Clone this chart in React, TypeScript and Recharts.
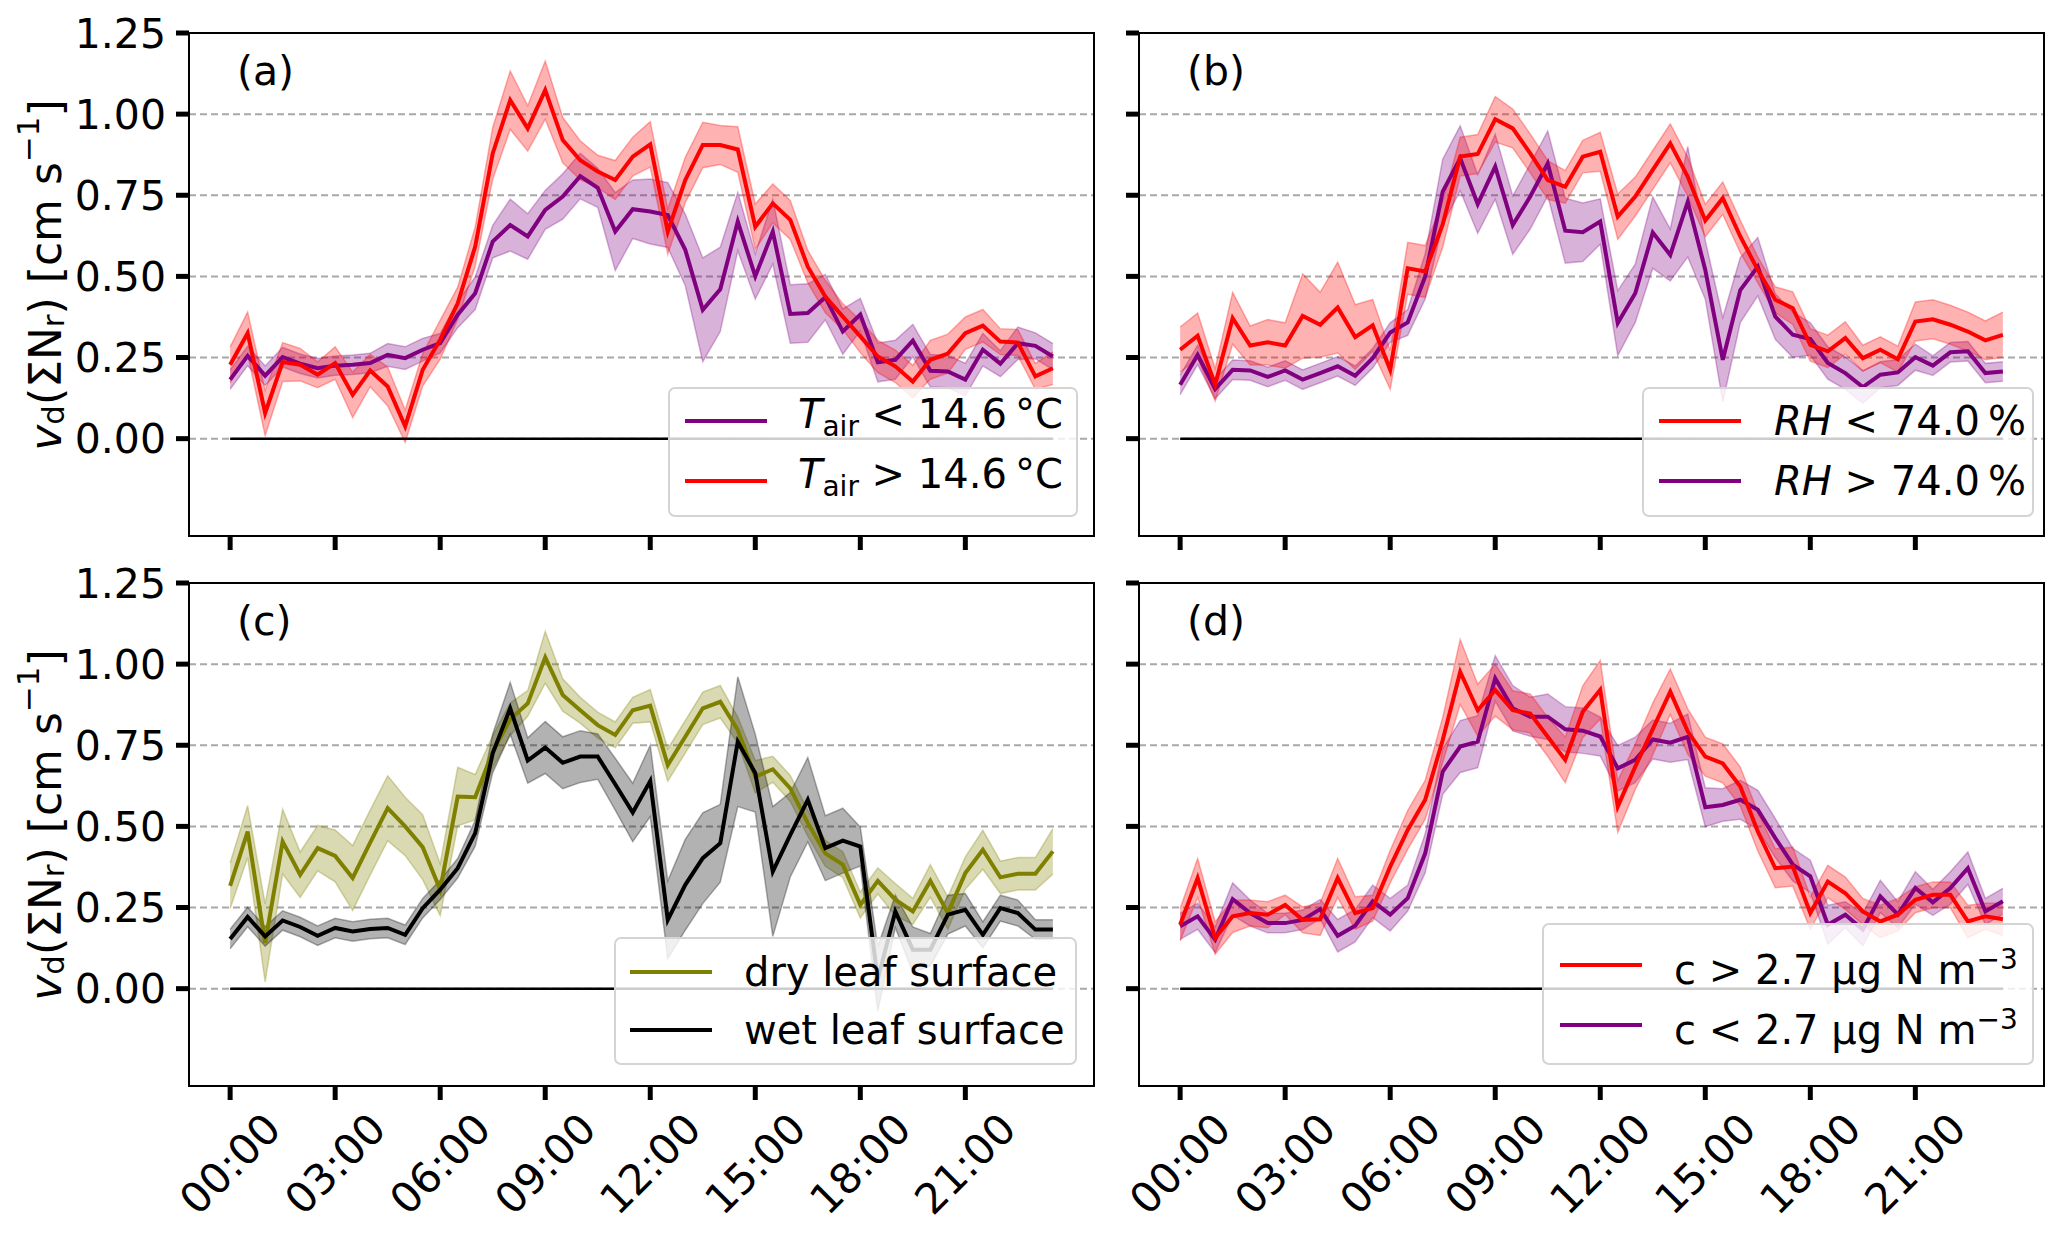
import React from "react";
import {
  ComposedChart,
  Area,
  Line,
  XAxis,
  YAxis,
  CartesianGrid,
  ReferenceLine,
  ReferenceArea,
  Legend,
} from "recharts";

const FONT = "DejaVu Sans";

// x positions: half-hour slots of the day, ticks every 3 h
const tickSlots = [0, 6, 12, 18, 24, 30, 36, 42];
const tickLabels = ["00:00", "03:00", "06:00", "09:00", "12:00", "15:00", "18:00", "21:00"];
const yTicks = [0, 0.25, 0.5, 0.75, 1.0, 1.25];

// (a) air temperature
const tAirLowMean = [0.182, 0.255, 0.194, 0.251, 0.231, 0.217, 0.225, 0.228, 0.233, 0.258, 0.248, 0.274, 0.294, 0.382, 0.448, 0.607, 0.658, 0.623, 0.705, 0.746, 0.809, 0.773, 0.638, 0.707, 0.70, 0.689, 0.582, 0.397, 0.46, 0.669, 0.50, 0.638, 0.384, 0.387, 0.436, 0.33, 0.382, 0.235, 0.243, 0.302, 0.209, 0.207, 0.182, 0.274, 0.231, 0.294, 0.286, 0.253];
const tAirLowErr = [0.03, 0.03, 0.03, 0.03, 0.03, 0.03, 0.03, 0.03, 0.03, 0.035, 0.035, 0.035, 0.03, 0.04, 0.05, 0.05, 0.08, 0.07, 0.06, 0.07, 0.07, 0.06, 0.12, 0.09, 0.10, 0.10, 0.11, 0.16, 0.13, 0.09, 0.07, 0.10, 0.09, 0.09, 0.07, 0.07, 0.05, 0.06, 0.06, 0.05, 0.05, 0.05, 0.05, 0.05, 0.04, 0.05, 0.04, 0.04];
const tAirHighMean = [0.228, 0.325, 0.079, 0.236, 0.228, 0.197, 0.233, 0.135, 0.21, 0.161, 0.038, 0.212, 0.305, 0.417, 0.592, 0.879, 1.043, 0.956, 1.074, 0.92, 0.858, 0.823, 0.797, 0.869, 0.907, 0.638, 0.797, 0.905, 0.905, 0.891, 0.653, 0.725, 0.674, 0.53, 0.438, 0.376, 0.315, 0.253, 0.223, 0.176, 0.243, 0.262, 0.325, 0.348, 0.299, 0.296, 0.192, 0.217];
const tAirHighErr = [0.055, 0.065, 0.07, 0.06, 0.05, 0.04, 0.05, 0.07, 0.05, 0.06, 0.05, 0.05, 0.06, 0.05, 0.06, 0.08, 0.09, 0.07, 0.09, 0.07, 0.06, 0.05, 0.06, 0.06, 0.07, 0.07, 0.07, 0.07, 0.06, 0.07, 0.07, 0.06, 0.06, 0.05, 0.05, 0.04, 0.05, 0.05, 0.05, 0.05, 0.06, 0.06, 0.05, 0.05, 0.04, 0.04, 0.04, 0.05];

// (b) relative humidity
const rhLowMean = [0.274, 0.317, 0.166, 0.371, 0.287, 0.297, 0.287, 0.378, 0.351, 0.404, 0.313, 0.349, 0.212, 0.525, 0.515, 0.66, 0.869, 0.877, 0.984, 0.956, 0.879, 0.797, 0.776, 0.869, 0.884, 0.684, 0.746, 0.828, 0.91, 0.807, 0.672, 0.741, 0.623, 0.52, 0.428, 0.402, 0.289, 0.269, 0.31, 0.248, 0.274, 0.245, 0.361, 0.368, 0.351, 0.33, 0.303, 0.32];
const rhLowErr = [0.07, 0.07, 0.05, 0.08, 0.06, 0.07, 0.07, 0.13, 0.10, 0.14, 0.10, 0.08, 0.06, 0.08, 0.08, 0.07, 0.06, 0.06, 0.07, 0.06, 0.06, 0.06, 0.05, 0.05, 0.06, 0.07, 0.06, 0.06, 0.06, 0.06, 0.05, 0.05, 0.05, 0.04, 0.04, 0.05, 0.05, 0.05, 0.05, 0.04, 0.04, 0.04, 0.06, 0.06, 0.06, 0.06, 0.06, 0.07];
const rhHighMean = [0.166, 0.258, 0.153, 0.212, 0.21, 0.19, 0.21, 0.182, 0.202, 0.223, 0.194, 0.248, 0.327, 0.358, 0.5, 0.761, 0.864, 0.723, 0.838, 0.658, 0.746, 0.848, 0.641, 0.636, 0.669, 0.356, 0.448, 0.635, 0.566, 0.73, 0.52, 0.243, 0.458, 0.53, 0.376, 0.32, 0.307, 0.233, 0.202, 0.159, 0.197, 0.204, 0.251, 0.225, 0.266, 0.269, 0.202, 0.207];
const rhHighErr = [0.03, 0.03, 0.03, 0.03, 0.03, 0.03, 0.03, 0.03, 0.03, 0.03, 0.03, 0.03, 0.03, 0.04, 0.07, 0.10, 0.10, 0.09, 0.10, 0.09, 0.10, 0.10, 0.10, 0.09, 0.07, 0.10, 0.09, 0.11, 0.08, 0.17, 0.09, 0.13, 0.10, 0.09, 0.07, 0.07, 0.05, 0.05, 0.05, 0.05, 0.04, 0.04, 0.04, 0.03, 0.03, 0.03, 0.03, 0.03];

// (c) leaf surface wetness
const dryMean = [0.317, 0.484, 0.141, 0.453, 0.351, 0.433, 0.409, 0.341, 0.45, 0.556, 0.5, 0.436, 0.305, 0.592, 0.59, 0.73, 0.83, 0.879, 1.021, 0.905, 0.858, 0.812, 0.782, 0.858, 0.872, 0.689, 0.776, 0.864, 0.884, 0.797, 0.653, 0.676, 0.617, 0.51, 0.417, 0.382, 0.258, 0.332, 0.274, 0.238, 0.332, 0.233, 0.356, 0.428, 0.343, 0.354, 0.354, 0.423];
const dryErr = [0.07, 0.08, 0.12, 0.10, 0.07, 0.07, 0.08, 0.10, 0.10, 0.10, 0.09, 0.10, 0.08, 0.09, 0.07, 0.05, 0.05, 0.04, 0.08, 0.05, 0.04, 0.04, 0.04, 0.04, 0.05, 0.05, 0.05, 0.05, 0.05, 0.04, 0.05, 0.04, 0.04, 0.04, 0.04, 0.04, 0.04, 0.04, 0.05, 0.04, 0.05, 0.05, 0.05, 0.06, 0.05, 0.05, 0.05, 0.07];
const wetMean = [0.153, 0.221, 0.161, 0.21, 0.19, 0.163, 0.187, 0.176, 0.184, 0.187, 0.166, 0.248, 0.305, 0.371, 0.479, 0.725, 0.864, 0.703, 0.743, 0.696, 0.715, 0.715, 0.63, 0.543, 0.64, 0.212, 0.32, 0.402, 0.448, 0.761, 0.664, 0.361, 0.474, 0.582, 0.433, 0.456, 0.438, 0.03, 0.238, 0.12, 0.12, 0.228, 0.243, 0.166, 0.248, 0.233, 0.182, 0.182];
const wetErr = [0.03, 0.03, 0.03, 0.03, 0.03, 0.03, 0.03, 0.03, 0.03, 0.03, 0.03, 0.03, 0.03, 0.03, 0.04, 0.06, 0.08, 0.07, 0.08, 0.08, 0.08, 0.07, 0.08, 0.09, 0.11, 0.12, 0.14, 0.14, 0.12, 0.20, 0.12, 0.20, 0.13, 0.13, 0.10, 0.10, 0.06, 0.10, 0.05, 0.07, 0.05, 0.06, 0.05, 0.04, 0.04, 0.04, 0.03, 0.03];

// (d) concentration
const cHighMean = [0.197, 0.341, 0.156, 0.223, 0.233, 0.228, 0.258, 0.212, 0.214, 0.341, 0.233, 0.248, 0.376, 0.489, 0.582, 0.766, 0.976, 0.858, 0.92, 0.858, 0.848, 0.776, 0.705, 0.853, 0.921, 0.561, 0.684, 0.80, 0.915, 0.792, 0.715, 0.694, 0.623, 0.484, 0.371, 0.376, 0.233, 0.33, 0.294, 0.238, 0.207, 0.228, 0.274, 0.289, 0.289, 0.207, 0.223, 0.214];
const cHighErr = [0.05, 0.06, 0.05, 0.05, 0.04, 0.04, 0.03, 0.04, 0.05, 0.06, 0.05, 0.04, 0.05, 0.06, 0.06, 0.07, 0.10, 0.08, 0.08, 0.06, 0.06, 0.06, 0.07, 0.08, 0.09, 0.08, 0.07, 0.08, 0.07, 0.07, 0.06, 0.06, 0.06, 0.06, 0.06, 0.06, 0.05, 0.05, 0.05, 0.04, 0.05, 0.05, 0.04, 0.04, 0.04, 0.05, 0.04, 0.05];
const cLowMean = [0.192, 0.223, 0.151, 0.276, 0.233, 0.202, 0.202, 0.212, 0.245, 0.163, 0.194, 0.269, 0.228, 0.279, 0.417, 0.669, 0.746, 0.761, 0.956, 0.864, 0.838, 0.838, 0.799, 0.795, 0.777, 0.679, 0.705, 0.768, 0.758, 0.776, 0.559, 0.566, 0.582, 0.551, 0.464, 0.382, 0.346, 0.197, 0.228, 0.182, 0.284, 0.228, 0.31, 0.266, 0.31, 0.371, 0.238, 0.269];
const cLowErr = [0.04, 0.04, 0.04, 0.05, 0.04, 0.03, 0.03, 0.03, 0.03, 0.05, 0.05, 0.05, 0.05, 0.04, 0.06, 0.07, 0.08, 0.08, 0.07, 0.07, 0.06, 0.07, 0.07, 0.07, 0.06, 0.07, 0.07, 0.06, 0.06, 0.07, 0.06, 0.05, 0.06, 0.06, 0.06, 0.05, 0.05, 0.06, 0.04, 0.05, 0.05, 0.04, 0.05, 0.04, 0.05, 0.05, 0.04, 0.04];

const RED = "#ff0000";
const PURPLE = "#800080";
const OLIVE = "#808000";
const BLACK = "#000000";

type Series = { mean: number[]; err: number[]; color: string };

function buildRows(series: Series[]) {
  return series[0].mean.map((_, i) => {
    const row: Record<string, number | number[]> = { slot: i };
    series.forEach((s, k) => {
      row[`m${k}`] = s.mean[i];
      row[`b${k}`] = [s.mean[i] - s.err[i], s.mean[i] + s.err[i]];
    });
    return row;
  });
}

const sub = { fontSize: "0.7em", verticalAlign: "-0.3em" } as const;
const sup = { fontSize: "0.7em", verticalAlign: "0.55em" } as const;

function RotTick(props: any) {
  const { x, y, payload } = props;
  const label = tickLabels[tickSlots.indexOf(payload.value)];
  return (
    <text
      transform={`translate(${x},${y + 62}) rotate(-45)`}
      textAnchor="middle"
      dominantBaseline="central"
      fontSize={42}
      fontFamily={FONT}
      fill="#000"
    >
      {label}
    </text>
  );
}

const NoTick = () => <g />;

function LegendBox({ items, box }: { items: { color: string; label: React.ReactNode }[]; box: any }) {
  return (
    <div
      style={{
        position: "relative",
        width: box.w,
        height: box.h,
        boxSizing: "border-box",
        border: "2px solid #d4d4d4",
        borderRadius: 7,
        background: "rgba(255,255,255,0.8)",
        fontFamily: FONT,
        fontSize: 40,
        color: "#000",
      }}
    >
      {items.map((it, k) => (
        <div
          key={k}
          style={{
            position: "absolute",
            left: 0,
            top: box.row0 + k * box.gap - 30,
            height: 60,
            display: "flex",
            alignItems: "center",
            whiteSpace: "nowrap",
          }}
        >
          <div style={{ position: "absolute", left: box.lineX, width: 82, height: 4, background: it.color }} />
          <span style={{ position: "absolute", left: box.textX, lineHeight: "60px" }}>{it.label}</span>
        </div>
      ))}
    </div>
  );
}

function Panel(props: {
  tag: string;
  series: Series[];
  legendItems: { color: string; label: React.ReactNode }[];
  box: any;
  left: number;
  top: number;
  isLeft: boolean;
  isBottom: boolean;
}) {
  const { tag, series, legendItems, box, left, top, isLeft, isBottom } = props;
  const rows = buildRows(series);
  const width = isLeft ? 1110 : 957;
  const height = isBottom ? 684 : 550;
  const yWidth = isLeft ? 189 : 29;
  return (
    <div style={{ position: "absolute", left, top }}>
      <ComposedChart
        width={width}
        height={height}
        data={rows}
        margin={{ top: 33, right: isLeft ? 16 : 23, bottom: 0, left: 0 }}
      >
        <CartesianGrid vertical={false} stroke="#a8a8a8" strokeDasharray="7 4" strokeWidth={2} />
        <XAxis
          dataKey="slot"
          type="number"
          domain={[-2.35, 49.35]}
          ticks={tickSlots}
          interval={0}
          allowDataOverflow
          height={isBottom ? 148 : 14}
          tickSize={14}
          axisLine={false}
          tickLine={{ stroke: "#000", strokeWidth: 5 }}
          tick={isBottom ? <RotTick /> : <NoTick />}
        />
        <YAxis
          type="number"
          domain={[-0.3, 1.25]}
          ticks={yTicks}
          interval={0}
          allowDataOverflow
          width={yWidth}
          tickSize={13}
          tickMargin={10}
          axisLine={false}
          tickLine={{ stroke: "#000", strokeWidth: 5 }}
          tickFormatter={(v: number) => v.toFixed(2)}
          tick={isLeft ? { fill: "#000", fontSize: 41, fontFamily: FONT } : <NoTick />}
        />
        <ReferenceLine
          segment={[
            { x: 0, y: 0 },
            { x: 47, y: 0 },
          ]}
          stroke="#000"
          strokeWidth={2.5}
        />
        {series.flatMap((s, k) => [
          <Area
            key={`b${k}`}
            dataKey={`b${k}`}
            type="linear"
            fill={s.color}
            fillOpacity={0.3}
            stroke={s.color}
            strokeOpacity={0.3}
            strokeWidth={1.5}
            dot={false}
            activeDot={false}
            legendType="none"
            isAnimationActive={false}
          />,
          <Line
            key={`m${k}`}
            dataKey={`m${k}`}
            type="linear"
            stroke={s.color}
            strokeWidth={4}
            dot={false}
            activeDot={false}
            isAnimationActive={false}
          />,
        ])}
        <ReferenceArea
          x1={-2.35}
          x2={49.35}
          y1={-0.3}
          y2={1.25}
          fill="none"
          stroke="#000"
          strokeWidth={2}
          ifOverflow="visible"
        />
        <text x={yWidth + 48} y={85} fontSize={41} fontFamily={FONT} fill="#000">
          {tag}
        </text>
        {isLeft && (
          <text
            transform="translate(45,275) rotate(-90)"
            textAnchor="middle"
            dominantBaseline="central"
            fontSize={44}
            fontFamily={FONT}
            fill="#000"
          >
            <tspan fontStyle="italic">v</tspan>
            <tspan fontSize={31} dy={8}>d</tspan>
            <tspan dy={-8}>(ΣN</tspan>
            <tspan fontSize={31} dy={8}>r</tspan>
            <tspan dy={-8}>) [cm s</tspan>
            <tspan fontSize={31} dy={-17}>−1</tspan>
            <tspan dy={17}>]</tspan>
          </text>
        )}
        <Legend
          layout="vertical"
          align="center"
          verticalAlign="middle"
          wrapperStyle={{ left: box.x, top: box.y, width: box.w, height: box.h }}
          content={() => <LegendBox items={legendItems} box={box} />}
        />
      </ComposedChart>
    </div>
  );
}

export default function App() {
  return (
    <div style={{ position: "absolute", left: 0, top: 0, width: 2067, height: 1234, background: "#fff" }}>
      <Panel
        tag="(a)"
        left={0}
        top={0}
        isLeft
        isBottom={false}
        series={[
          { mean: tAirLowMean, err: tAirLowErr, color: PURPLE },
          { mean: tAirHighMean, err: tAirHighErr, color: RED },
        ]}
        legendItems={[
          { color: PURPLE, label: <><i>T</i><span style={sub}>air</span> &lt; 14.6{"\u2009"}°C</> },
          { color: RED, label: <><i>T</i><span style={sub}>air</span> &gt; 14.6{"\u2009"}°C</> },
        ]}
        box={{ x: 668, y: 387, w: 410, h: 130, row0: 32, gap: 60, lineX: 15, textX: 128 }}
      />
      <Panel
        tag="(b)"
        left={1110}
        top={0}
        isLeft={false}
        isBottom={false}
        series={[
          { mean: rhHighMean, err: rhHighErr, color: PURPLE },
          { mean: rhLowMean, err: rhLowErr, color: RED },
        ]}
        legendItems={[
          { color: RED, label: <><i>RH</i> &lt; 74.0{"\u2009"}%</> },
          { color: PURPLE, label: <><i>RH</i> &gt; 74.0{"\u2009"}%</> },
        ]}
        box={{ x: 532, y: 387, w: 392, h: 130, row0: 32, gap: 60, lineX: 15, textX: 130 }}
      />
      <Panel
        tag="(c)"
        left={0}
        top={550}
        isLeft
        isBottom
        series={[
          { mean: dryMean, err: dryErr, color: OLIVE },
          { mean: wetMean, err: wetErr, color: BLACK },
        ]}
        legendItems={[
          { color: OLIVE, label: "dry leaf surface" },
          { color: BLACK, label: "wet leaf surface" },
        ]}
        box={{ x: 614, y: 387, w: 463, h: 128, row0: 33, gap: 58, lineX: 14, textX: 128 }}
      />
      <Panel
        tag="(d)"
        left={1110}
        top={550}
        isLeft={false}
        isBottom
        series={[
          { mean: cLowMean, err: cLowErr, color: PURPLE },
          { mean: cHighMean, err: cHighErr, color: RED },
        ]}
        legendItems={[
          { color: RED, label: <>c &gt; 2.7 µg N m<span style={sup}>−3</span></> },
          { color: PURPLE, label: <>c &lt; 2.7 µg N m<span style={sup}>−3</span></> },
        ]}
        box={{ x: 432, y: 373, w: 492, h: 142, row0: 40, gap: 60, lineX: 16, textX: 130 }}
      />
    </div>
  );
}
